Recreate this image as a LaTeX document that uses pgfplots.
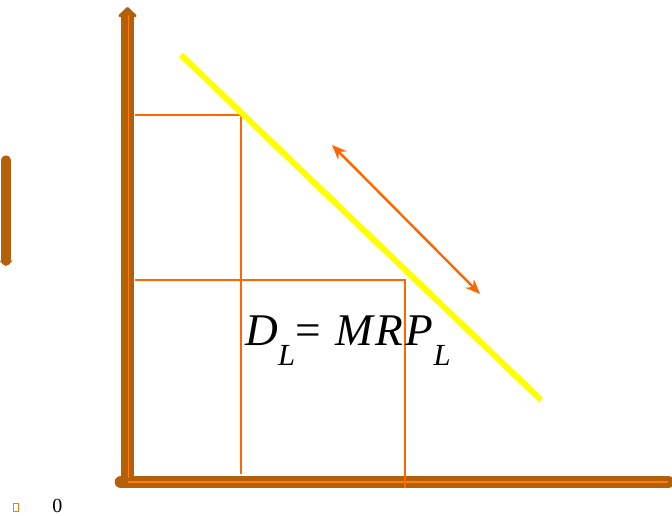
\documentclass[border=0pt]{standalone}
\usepackage{fontspec}
\setmainfont{Liberation Serif}
\usepackage{pgfplots}
\pgfplotsset{compat=1.18}
\usetikzlibrary{arrows.meta}
\definecolor{axbrown}{RGB}{180,95,10}
\definecolor{axinner}{RGB}{255,128,0}
\definecolor{lineorange}{RGB}{255,102,0}
\definecolor{demand}{RGB}{255,255,0}
\begin{document}
\begin{tikzpicture}
% coordinates are pixels of the 672x516 slide, y measured downward
\begin{axis}[name=ax,
  width=504pt,height=387pt,scale only axis,
  xmin=0,xmax=672,ymin=0,ymax=516,y dir=reverse,
  hide axis,clip=false]
% stray bar on the left
\addplot[no markers,draw=axbrown,line width=7pt,line cap=round,
  -{Triangle[width=10pt,length=4pt]}] coordinates {(6,160) (6,266)};
% axes
\addplot[no markers,draw=axbrown,line width=9.5pt,
  -{Triangle[width=16pt,length=8pt,round]}] coordinates {(127.5,482) (127.5,7)};
\addplot[no markers,draw=axbrown,line width=9.5pt,line cap=round] coordinates {(121,482) (668,482)};
\addplot[no markers,draw=axinner,line width=1.1pt] coordinates {(128.5,478) (128.5,15)};
\addplot[no markers,draw=axinner,line width=1.1pt] coordinates {(128,482) (668,482)};
% quantity/wage guides
\addplot[no markers,draw=lineorange,line width=1.6pt] coordinates {(135,115) (241,115) (241,474)};
\addplot[no markers,draw=lineorange,line width=1.6pt] coordinates {(135,280) (405,280) (405,488)};
% demand curve
\addplot[no markers,draw=demand,line width=4.5pt] coordinates {(181,55) (541,400)};
% movement along the curve
\addplot[no markers,draw=lineorange,line width=1.8pt,
  {Stealth[width=9pt,length=11pt]}-{Stealth[width=9pt,length=11pt]}] coordinates {(332,145) (480,294)};
\node[anchor=base west,inner sep=0pt] at (axis cs:245,346)
  {\fontsize{34}{40}\selectfont\textit{D}\raisebox{-0.42em}{\fontsize{23}{23}\selectfont\textit{L}}\kern0.02em=\kern0.3em\textit{M\kern0.05em R\kern0.05em P}\kern0.02em\raisebox{-0.42em}{\fontsize{23}{23}\selectfont\textit{L}}};
% bottom-left remnants
\addplot[no markers,draw=axinner,line width=0.6pt] coordinates {(13.5,503.5) (18,503.5) (18,511.5) (13.5,511.5) (13.5,503.5)};
\node[anchor=base,inner sep=0pt] at (axis cs:57.5,513) {\fontsize{15}{17}\selectfont 0};
\end{axis}
\pgfresetboundingbox
\path (ax.south west) rectangle (ax.north east);
\end{tikzpicture}
\end{document}
